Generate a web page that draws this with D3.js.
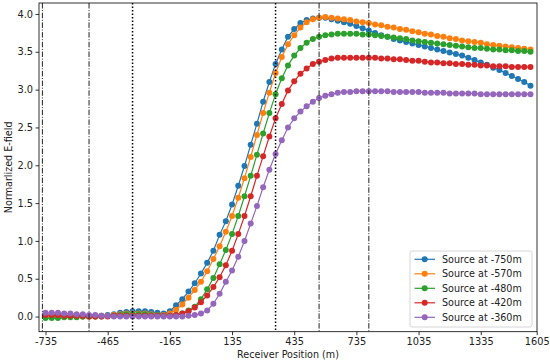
<!DOCTYPE html>
<meta charset="utf-8">
<script src="https://d3js.org/d3.v7.min.js"></script>
<style>
  body { margin: 0; background: #fff; }
  text { font-family: "DejaVu Sans", sans-serif; }
</style>
<div id="my_dataviz"></div>
<script>

// receiver positions (m)
var receivers = [-765,-735,-705,-675,-645,-615,-585,-555,-525,-495,-465,-435,-405,-375,-345,-315,-285,-255,-225,-195,
  -165,-135,-105,-75,-45,-15,15,45,75,105,135,165,195,225,255,285,315,345,375,405,
  435,465,495,525,555,585,615,645,675,705,735,765,795,825,855,885,915,945,975,1005,
  1035,1065,1095,1125,1155,1185,1215,1245,1275,1305,1335,1365,1395,1425,1455,1485,1515,1545,1575];

var src750 = [0.00,0.00,0.00,0.00,0.00,0.00,0.00,0.00,0.01,0.01,0.02,0.03,0.05,0.06,0.07,0.07,0.07,0.06,0.05,0.04,
  0.07,0.15,0.23,0.33,0.44,0.57,0.71,0.87,1.08,1.26,1.48,1.73,1.99,2.27,2.55,2.84,3.10,3.34,3.53,3.70,
  3.80,3.88,3.92,3.94,3.95,3.95,3.93,3.91,3.89,3.87,3.84,3.81,3.78,3.75,3.72,3.70,3.67,3.65,3.63,3.61,
  3.59,3.57,3.55,3.53,3.51,3.49,3.47,3.45,3.42,3.39,3.36,3.33,3.29,3.26,3.22,3.18,3.14,3.10,3.05];

var src570 = [0.00,0.00,0.00,0.00,0.00,0.00,0.00,0.00,0.00,0.01,0.01,0.02,0.03,0.04,0.04,0.04,0.04,0.03,0.02,0.02,
  0.04,0.09,0.16,0.25,0.35,0.46,0.60,0.76,0.93,1.12,1.33,1.57,1.83,2.11,2.40,2.69,2.96,3.22,3.43,3.60,
  3.72,3.82,3.89,3.93,3.95,3.96,3.95,3.94,3.93,3.92,3.90,3.89,3.88,3.86,3.85,3.83,3.82,3.80,3.79,3.77,
  3.76,3.74,3.73,3.71,3.70,3.68,3.67,3.65,3.64,3.63,3.62,3.60,3.59,3.58,3.57,3.56,3.55,3.54,3.53];

var src480 = [-0.02,-0.02,-0.02,-0.01,-0.01,-0.01,0.00,0.00,0.00,0.00,0.01,0.01,0.02,0.03,0.03,0.03,0.03,0.02,0.02,0.01,
  0.01,0.02,0.04,0.08,0.13,0.23,0.36,0.51,0.69,0.88,1.09,1.33,1.59,1.86,2.14,2.42,2.69,2.94,3.15,3.32,
  3.45,3.55,3.62,3.67,3.70,3.72,3.73,3.74,3.74,3.74,3.74,3.73,3.73,3.72,3.71,3.70,3.69,3.68,3.67,3.65,
  3.64,3.63,3.62,3.61,3.60,3.59,3.58,3.57,3.56,3.55,3.55,3.54,3.53,3.53,3.52,3.52,3.51,3.51,3.50];

var src420 = [0.02,0.02,0.02,0.01,0.01,0.01,0.01,0.00,0.00,0.00,0.00,0.01,0.01,0.01,0.01,0.01,0.01,0.01,0.01,0.01,
  0.01,0.02,0.04,0.07,0.12,0.19,0.28,0.39,0.52,0.68,0.87,1.09,1.33,1.59,1.86,2.12,2.38,2.62,2.81,2.99,
  3.11,3.21,3.28,3.34,3.37,3.39,3.41,3.42,3.42,3.42,3.42,3.42,3.42,3.42,3.41,3.41,3.40,3.40,3.39,3.38,
  3.38,3.37,3.36,3.36,3.35,3.35,3.34,3.34,3.33,3.33,3.32,3.32,3.31,3.31,3.31,3.30,3.30,3.30,3.30];

var src360 = [0.05,0.05,0.05,0.04,0.04,0.03,0.03,0.02,0.02,0.01,0.01,0.00,0.00,0.00,0.00,0.00,0.00,0.00,0.00,0.00,
  0.00,0.00,0.00,0.01,0.02,0.04,0.08,0.17,0.30,0.46,0.61,0.79,1.00,1.23,1.46,1.71,1.94,2.15,2.33,2.50,
  2.62,2.71,2.78,2.84,2.89,2.92,2.94,2.96,2.97,2.97,2.98,2.98,2.98,2.98,2.98,2.98,2.97,2.97,2.97,2.97,
  2.97,2.96,2.96,2.96,2.96,2.95,2.95,2.95,2.95,2.95,2.94,2.94,2.94,2.94,2.94,2.94,2.94,2.94,2.94];

var seriesNames = ["Source at -750m", "Source at -570m", "Source at -480m", "Source at -420m", "Source at -360m"];
var seriesValues = [src750, src570, src480, src420, src360];
var colors = ["#1f77b4", "#ff7f0e", "#2ca02c", "#d62728", "#9467bd"];

// x ticks: positions and the labels shown under them
var xTickPos = [-765, -465, -165, 135, 435, 735, 1035, 1335, 1605];
var xTickLabels = ["-735", "-465", "-165", "135", "435", "735", "1035", "1335", "1605"];
var yTicks = [0, 0.5, 1.0, 1.5, 2.0, 2.5, 3.0, 3.5, 4.0];

// vertical marker lines
var dashDotLines = [-780, -555, 555, 795];
var dottedLines = [-345, 345];

var W = 550, H = 364;
var pL = 39, pR = 537, pT = 3, pB = 331.7;

var svg = d3.select("#my_dataviz")
  .append("svg")
    .attr("width", W)
    .attr("height", H);

var x = d3.scaleLinear().domain([-796.4, 1606.4]).range([pL, pR]);
var y = d3.scaleLinear().domain([-0.2, 4.145]).range([pB, pT]);

// axes
var xAxis = svg.append("g")
  .attr("transform", "translate(0," + pB + ")")
  .call(d3.axisBottom(x)
    .tickValues(xTickPos)
    .tickFormat(function(d, i){ return xTickLabels[i]; })
    .tickSize(3.5).tickPadding(2.5));

var yAxis = svg.append("g")
  .attr("transform", "translate(" + pL + ",0)")
  .call(d3.axisLeft(y)
    .tickValues(yTicks)
    .tickFormat(d3.format(".1f"))
    .tickSize(3.5).tickPadding(2.5));

[xAxis, yAxis].forEach(function(a){
  a.select(".domain").remove();
  a.selectAll("line").attr("stroke", "#000").attr("stroke-width", 0.8);
  a.selectAll("text").attr("fill", "#222").style("font-size", "9.8px").style("font-family", "DejaVu Sans");
});

// series
var line = d3.line()
  .x(function(d, i){ return x(receivers[i]); })
  .y(function(d){ return y(d); });

seriesValues.forEach(function(vals, k){
  var g = svg.append("g");
  g.append("path")
    .datum(vals)
    .attr("d", line)
    .attr("fill", "none")
    .attr("stroke", colors[k])
    .attr("stroke-width", 1.2);
  g.selectAll("circle")
    .data(vals)
    .enter()
    .append("circle")
      .attr("cx", function(d, i){ return x(receivers[i]); })
      .attr("cy", function(d){ return y(d); })
      .attr("r", 3)
      .style("fill", colors[k]);
});

// vertical lines
svg.selectAll(".dd")
  .data(dashDotLines)
  .enter()
  .append("line")
    .attr("x1", function(d){ return x(d); })
    .attr("x2", function(d){ return x(d); })
    .attr("y1", pT)
    .attr("y2", pB)
    .attr("stroke", "#222")
    .attr("stroke-width", 1)
    .attr("stroke-dasharray", "5.5,1.6,1,1.6");

svg.selectAll(".dt")
  .data(dottedLines)
  .enter()
  .append("line")
    .attr("x1", function(d){ return x(d); })
    .attr("x2", function(d){ return x(d); })
    .attr("y1", pT)
    .attr("y2", pB)
    .attr("stroke", "#000")
    .attr("stroke-width", 1.5)
    .attr("stroke-dasharray", "1.5,2");

// frame
svg.append("rect")
  .attr("x", pL).attr("y", pT)
  .attr("width", pR - pL).attr("height", pB - pT)
  .attr("fill", "none")
  .attr("stroke", "#000")
  .attr("stroke-width", 0.8);

// legend
var lg = svg.append("g");
lg.append("rect")
  .attr("x", 410).attr("y", 251)
  .attr("width", 122).attr("height", 76)
  .attr("rx", 2)
  .attr("fill", "#fff").attr("fill-opacity", 0.8)
  .attr("stroke", "#ccc").attr("stroke-width", 0.8);

var items = lg.selectAll(".item")
  .data(seriesNames)
  .enter()
  .append("g")
    .attr("transform", function(d, i){ return "translate(0," + (259.3 + i * 14.5) + ")"; });

items.append("line")
  .attr("x1", 414.5).attr("x2", 435)
  .attr("stroke", function(d, i){ return colors[i]; })
  .attr("stroke-width", 1.2);
items.append("circle")
  .attr("cx", 424.7).attr("r", 3)
  .style("fill", function(d, i){ return colors[i]; });
items.append("text")
  .attr("x", 442)
  .attr("y", 3.5)
  .style("font-size", "9.6px")
  .style("fill", "#222")
  .text(function(d){ return d; });

// axis labels
svg.append("text")
  .attr("x", (pL + pR) / 2)
  .attr("y", 358)
  .style("text-anchor", "middle")
  .style("font-size", "9.6px")
  .style("fill", "#222")
  .text("Receiver Position (m)");

svg.append("text")
  .attr("transform", "rotate(-90)")
  .attr("x", -(pT + pB) / 2)
  .attr("y", 9)
  .attr("dy", "0.35em")
  .style("text-anchor", "middle")
  .style("font-size", "9.6px")
  .style("fill", "#222")
  .text("Normarlized E-field");

</script>
